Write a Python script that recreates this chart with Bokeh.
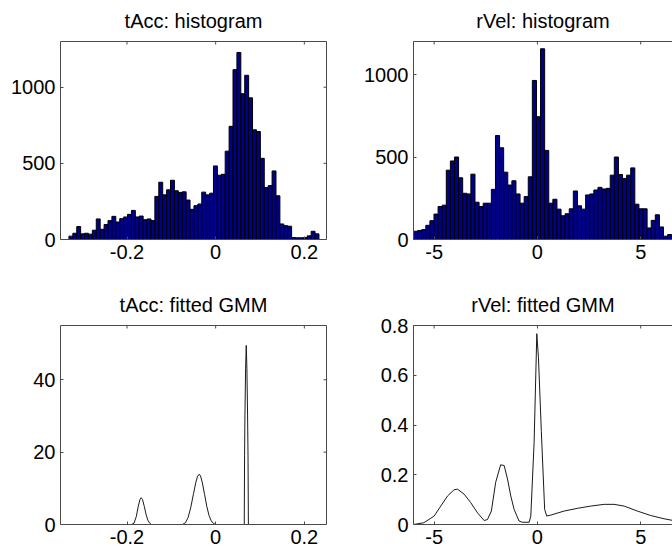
import numpy as np
from bokeh.plotting import figure
from bokeh.layouts import column, row
from bokeh.models import LinearAxis, FixedTicker, Range1d
from bokeh.embed import file_html
from bokeh.resources import INLINE

# ---------------- data ----------------
titles = ["tAcc: histogram", "rVel: histogram", "tAcc: fitted GMM", "rVel: fitted GMM"]

tacc_counts = [22, 41, 85, 37, 41, 35, 61, 135, 67, 98,
               124, 152, 115, 137, 148, 165, 191, 148, 154, 130,
               135, 124, 283, 376, 293, 326, 389, 320, 309, 313,
               259, 198, 222, 233, 311, 293, 304, 483, 422, 428,
               580, 743, 1115, 1228, 957, 1078, 930, 720, 709, 533,
               341, 354, 450, 287, 102, 91, 87, 13, 11, 11,
               13, 24, 54, 37]
tacc_hist_range = [-0.331, 0.233]

rvel_counts = [50, 54, 60, 86, 114, 154, 200, 208, 420, 476,
               500, 374, 280, 276, 396, 226, 200, 220, 220, 304,
               630, 556, 408, 330, 356, 276, 220, 260, 380, 964,
               744, 1156, 540, 220, 244, 184, 144, 156, 186, 294,
               204, 184, 270, 276, 300, 316, 306, 310, 390, 500,
               394, 370, 390, 434, 214, 186, 186, 70, 116, 150,
               76, 20, 30, 26]
rvel_hist_range = [-6.0, 6.7]

tacc_gmm_x = [-0.216, -0.19, -0.184, -0.179, -0.175, -0.171, -0.168, -0.165, -0.161, -0.157,
              -0.153, -0.149, -0.145, -0.075, -0.068, -0.062, -0.056, -0.050, -0.045, -0.041,
              -0.037, -0.034, -0.030, -0.025, -0.020, -0.015, -0.010, -0.005, 0.0, 0.058,
              0.0645, 0.0652, 0.066, 0.0675, 0.069, 0.0705, 0.072, 0.073, 0.0738, 0.081]
tacc_gmm_y = [0, 0, 0.4, 2.2, 4.8, 6.8, 7.4, 6.9, 5.0, 2.8,
              1.2, 0.4, 0, 0, 0.5, 2.0, 4.8, 8.5, 11.5, 13.3,
              13.9, 13.4, 11.5, 8.3, 5.0, 2.5, 1.0, 0.3, 0, 0,
              0, 19, 30, 43, 49.5, 43, 30, 19, 0, 0]

rvel_gmm_x = [-6.0, -5.5, -5.0, -4.68, -4.35, -4.03, -3.87, -3.55, -3.23, -2.9,
              -2.58, -2.42, -2.23, -2.02, -1.78, -1.61, -1.45, -1.29, -1.13, -0.89,
              -0.73, -0.4, -0.32, -0.16, -0.03, 0.05, 0.19, 0.35, 0.45, 0.65,
              1.29, 1.94, 2.58, 3.23, 3.71, 4.2, 4.84, 5.49, 6.13, 6.7]
rvel_gmm_y = [0.0, 0.007, 0.034, 0.074, 0.115, 0.14, 0.142, 0.122, 0.088, 0.047,
              0.016, 0.02, 0.054, 0.17, 0.24, 0.237, 0.183, 0.115, 0.061, 0.014,
              0.009, 0.009, 0.034, 0.33, 0.767, 0.67, 0.373, 0.061, 0.034, 0.038,
              0.054, 0.065, 0.074, 0.081, 0.081, 0.074, 0.054, 0.036, 0.023, 0.014]

tacc_xticks = [-0.2, 0, 0.2]
tacc_xtick_labels = ["-0.2", "0", "0.2"]
rvel_xticks = [-5, 0, 5]
rvel_xtick_labels = ["-5", "0", "5"]
hist_yticks = [0, 500, 1000]
hist_ytick_labels = ["0", "500", "1000"]
tacc_gmm_yticks = [0, 20, 40]
tacc_gmm_ytick_labels = ["0", "20", "40"]
rvel_gmm_yticks = [0, 0.2, 0.4, 0.6, 0.8]
rvel_gmm_ytick_labels = ["0", "0.2", "0.4", "0.6", "0.8"]

# ---------------- styling ----------------
FONT = "Liberation Sans"
FSIZE = "20px"
AXC = "#4a4a4a"
BAR = "#000088"


def style_axis(ax):
    ax.axis_line_color = AXC
    ax.major_tick_line_color = AXC
    ax.minor_tick_line_color = None
    ax.major_tick_in = 3
    ax.major_tick_out = 0
    ax.major_label_text_font = FONT
    ax.major_label_text_color = "black"
    ax.major_label_text_font_size = FSIZE
    ax.major_label_standoff = 5


def border_axis(p, side):
    ax = LinearAxis(ticker=FixedTicker(ticks=[], minor_ticks=[]))
    ax.axis_line_color = AXC
    ax.major_tick_line_color = None
    ax.minor_tick_line_color = None
    ax.major_tick_in = 0
    ax.major_tick_out = 0
    ax.major_label_standoff = 0
    p.add_layout(ax, side)


def make_fig(title, xr, yr, xt, xl, yt, yl, left, right, top, bottom, fw, fh, right_axis=True):
    p = figure(frame_width=fw, frame_height=fh,
               x_range=Range1d(*xr), y_range=Range1d(*yr),
               x_axis_location=None, y_axis_location=None,
               output_backend="svg", toolbar_location=None,
               min_border_left=left, min_border_right=right,
               min_border_top=top, min_border_bottom=bottom,
               outline_line_color=None,
               background_fill_color="white", border_fill_color="white")
    p.title.text = title
    p.title.text_font = FONT
    p.title.text_font_size = FSIZE
    p.title.text_font_style = "normal"
    p.title.text_color = "black"
    p.title.align = "center"
    p.title.vertical_align = "top"
    p.title.text_line_height = 1.0
    p.title.standoff = 15
    xb = LinearAxis(ticker=FixedTicker(ticks=xt, minor_ticks=[]),
                    major_label_overrides=dict(zip(xt, xl)))
    style_axis(xb)
    p.add_layout(xb, "below")
    yax = LinearAxis(ticker=FixedTicker(ticks=yt, minor_ticks=[]),
                     major_label_overrides=dict(zip(yt, yl)))
    style_axis(yax)
    p.add_layout(yax, "left")
    border_axis(p, "above")
    # inward tick marks on the top edge (half of each dash is clipped by the frame)
    p.scatter(x=xt, y=[yr[1]] * len(xt), marker="dash", size=6, angle=np.pi / 2,
              line_color=AXC, line_width=1)
    if right_axis:
        border_axis(p, "right")
        p.scatter(x=[xr[1]] * len(yt), y=yt, marker="dash", size=6,
                  line_color=AXC, line_width=1)
    p.xgrid.visible = False
    p.ygrid.visible = False
    return p


def hist_quads(p, counts, rng):
    edges = np.linspace(rng[0], rng[1], len(counts) + 1)
    p.quad(left=edges[:-1], right=edges[1:], bottom=0, top=counts,
           fill_color=BAR, line_color="black", line_width=1)


p1 = make_fig(titles[0], (-0.35, 0.25), (0, 1300), tacc_xticks, tacc_xtick_labels,
              hist_yticks, hist_ytick_labels, 60, 10, 41, 37, 266, 198)
hist_quads(p1, tacc_counts, tacc_hist_range)

p2 = make_fig(titles[1], (-6.0, 6.54), (0, 1200), rvel_xticks, rvel_xtick_labels,
              hist_yticks, hist_ytick_labels, 77, 0, 41, 37, 259, 198, right_axis=False)
hist_quads(p2, rvel_counts, rvel_hist_range)

p3 = make_fig(titles[2], (-0.35, 0.25), (0, 55), tacc_xticks, tacc_xtick_labels,
              tacc_gmm_yticks, tacc_gmm_ytick_labels, 60, 10, 49, 27, 266, 199)
p3.line(tacc_gmm_x, tacc_gmm_y, line_color="#1a1a1a", line_width=1)

p4 = make_fig(titles[3], (-6.0, 6.54), (0, 0.8), rvel_xticks, rvel_xtick_labels,
              rvel_gmm_yticks, rvel_gmm_ytick_labels, 77, 0, 49, 27, 259, 199, right_axis=False)
p4.line(rvel_gmm_x, rvel_gmm_y, line_color="#1a1a1a", line_width=1)

layout = column(row(p1, p2), row(p3, p4))

open("out.html", "w").write(file_html(layout, INLINE))
